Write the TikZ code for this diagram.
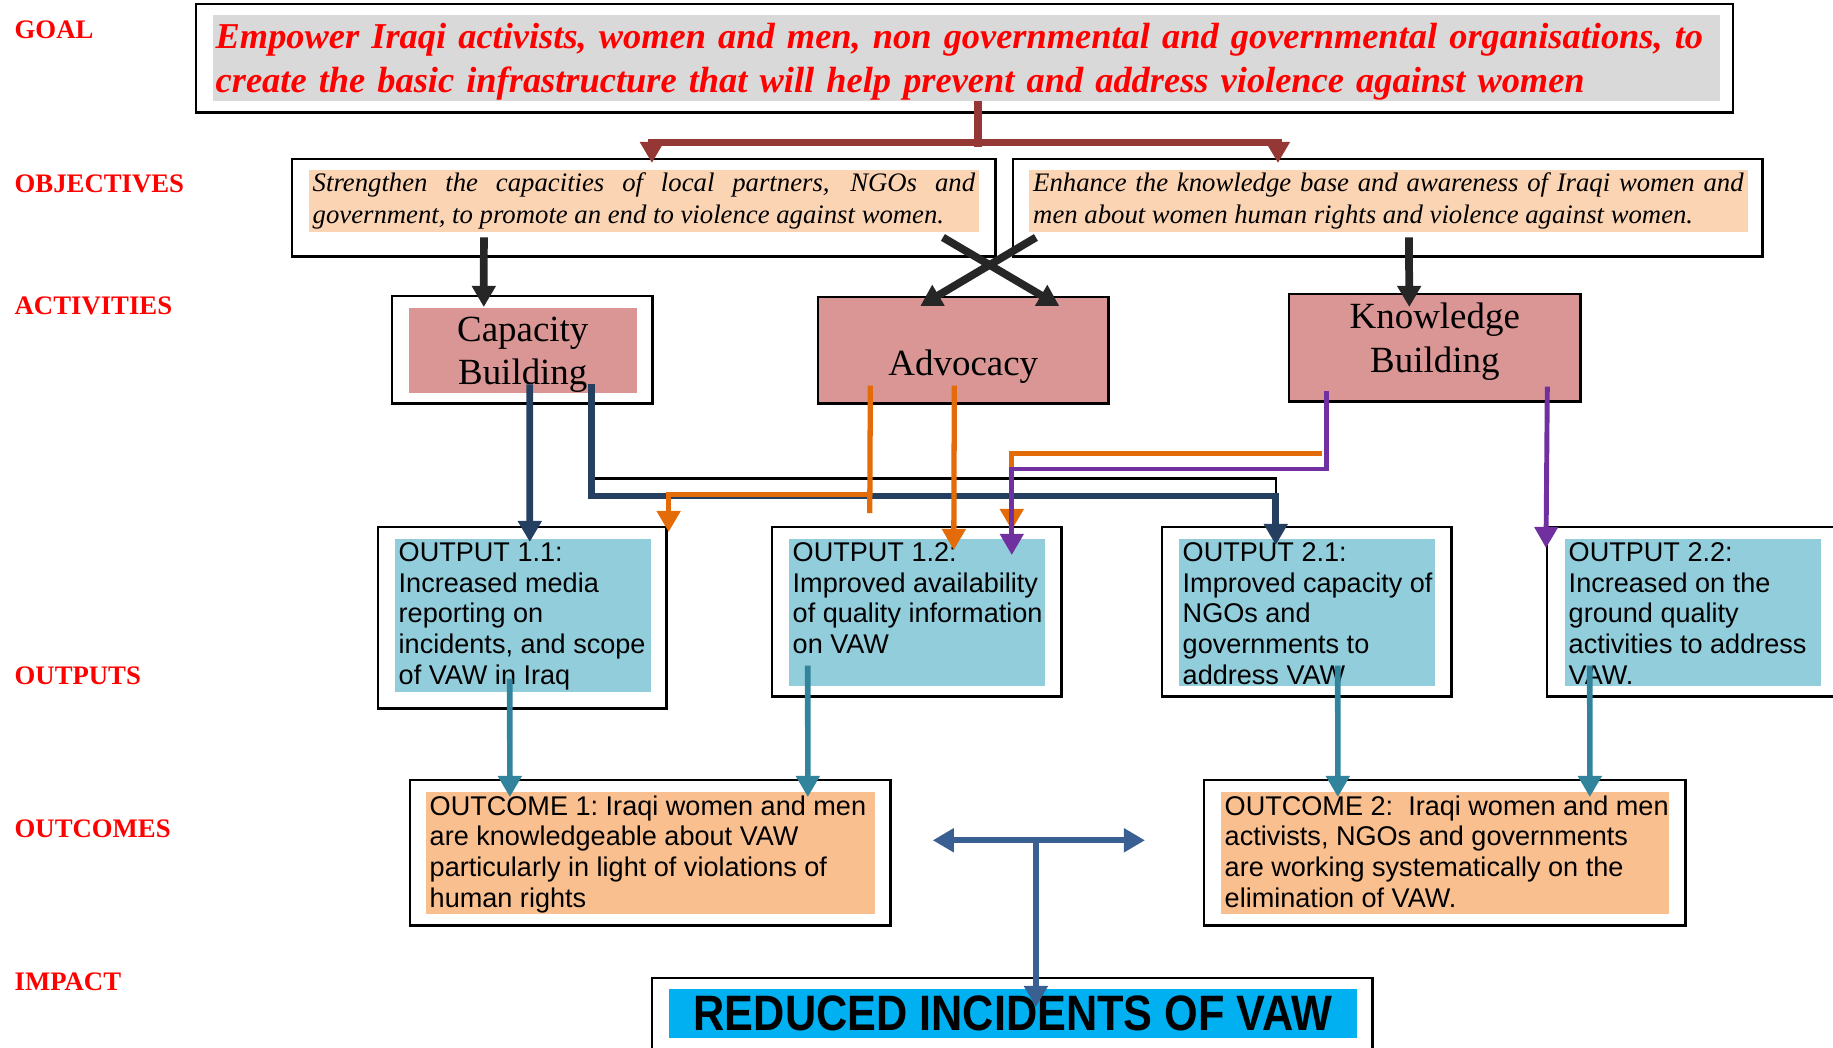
\documentclass[tikz,border=0pt]{standalone}
\usepackage{fontspec}
\usepackage{graphicx}
\setmainfont{Liberation Serif}
\setsansfont{Liberation Sans}
\usetikzlibrary{arrows.meta,calc}

\definecolor{goalgray}{HTML}{D9D9D9}
\definecolor{objpeach}{HTML}{FBD4B4}
\definecolor{actpink}{HTML}{D99694}
\definecolor{outblue}{HTML}{92CDDC}
\definecolor{ocorange}{HTML}{FABF8F}
\definecolor{impcyan}{HTML}{00B0F0}
\definecolor{linkbrown}{HTML}{953735}
\definecolor{linknavy}{HTML}{243F60}
\definecolor{linkorange}{HTML}{E36C09}
\definecolor{linkpurple}{HTML}{7030A0}
\definecolor{linkteal}{HTML}{31849B}
\definecolor{linkblue}{HTML}{3A6093}
\definecolor{linkblack}{HTML}{262626}

\begin{document}
\begin{tikzpicture}[x=0.01cm, y=-0.01cm,
    >={Triangle[width=6.5pt,length=6pt]},
    boxframe/.style={draw, line width=0.7pt, anchor=north west, inner sep=0pt},
    fillpanel/.style={anchor=north west, inner sep=0pt},
    rowlabel/.style={anchor=west, inner sep=0pt, text=red, font=\bfseries\fontsize{7.6}{9}\selectfont},
    outtext/.style={anchor=north west, align=left, inner xsep=0.04cm, inner ysep=0.04cm, font=\sffamily\fontsize{7.7}{8.7}\selectfont\frenchspacing},
    acttext/.style={align=center, font=\fontsize{10.5}{12.3}\selectfont},
    objtext/.style={align=justify, inner ysep=0pt, font=\itshape\fontsize{7.6}{9}\selectfont},
    brownlink/.style={draw=linkbrown, line width=2.2pt},
    blacklink/.style={draw=linkblack, line width=2.2pt},
    navylink/.style={draw=linknavy, line width=1.9pt},
    orangelink/.style={draw=linkorange, line width=1.5pt},
    purplelink/.style={draw=linkpurple, line width=1.4pt},
    teallink/.style={draw=linkteal, line width=1.6pt},
    teelink/.style={draw=linkblue, line width=1.6pt}]
  \useasboundingbox (0,0) rectangle (1833,1047);

  % row labels
  \node[rowlabel] (lgoal) at (14,30) {GOAL};
  \node[rowlabel] (lobj) at (14,184) {OBJECTIVES};
  \node[rowlabel] (lact) at (14,306) {ACTIVITIES};
  \node[rowlabel] (lout) at (14,676) {OUTPUTS};
  \node[rowlabel] (loc) at (14,829) {OUTCOMES};
  \node[rowlabel] (limp) at (14,982) {IMPACT};

  % goal
  \node[boxframe, minimum width=15.36cm, minimum height=1.08cm] (goalbox) at (195,3) {};
  \node[fillpanel, fill=goalgray, minimum width=15.06cm, minimum height=0.86cm] (goal) at (212,14) {};
  \node[text width=15.0cm, inner sep=0pt, align=left, text=red, font=\bfseries\itshape\fontsize{10.35}{12.4}\selectfont] (goaltxt)
    at ($(goal.center)+(0,4)$)
    {Empower Iraqi activists, women and men, non governmental and governmental organisations, to\\create the basic infrastructure that will help prevent and address violence against women};

  % objectives
  \node[boxframe, minimum width=7.03cm, minimum height=0.97cm] (obj1box) at (291,158) {};
  \node[fillpanel, objtext, fill=objpeach, minimum height=0.62cm, text width=6.62cm, inner xsep=0.04cm] (obj1) at (308,169)
    {Strengthen the capacities of local partners, NGOs and\linebreak government, to promote an end to violence against women.};
  \node[boxframe, minimum width=7.49cm, minimum height=0.97cm] (obj2box) at (1012,158) {};
  \node[fillpanel, objtext, fill=objpeach, minimum height=0.62cm, text width=7.1cm, inner xsep=0.045cm] (obj2) at (1028,169)
    {Enhance the knowledge base and awareness of Iraqi women and\linebreak men about women human rights and violence against women.};

  % activities
  \node[boxframe, minimum width=2.60cm, minimum height=1.07cm] (capbox) at (391,295) {};
  \node[fillpanel, acttext, fill=actpink, minimum width=2.28cm, minimum height=0.85cm] (cap) at (408,307) {\\[-0.1cm]Capacity\\Building};
  \node[boxframe, acttext, fill=actpink, minimum width=2.90cm, minimum height=1.06cm, text height=0.55cm, text depth=0.05cm] (adv) at (817,296) {Advocacy};
  \node[boxframe, fill=actpink, minimum width=2.91cm, minimum height=1.07cm] (know) at (1288,293) {};
  \node[acttext, inner sep=0pt] (knowtxt) at ($(know.center)+(0,-6)$) {Knowledge\\Building};

  % outputs
  \node[boxframe, minimum width=2.88cm, minimum height=1.81cm] (o11box) at (377,526) {};
  \node[fillpanel, fill=outblue, minimum width=2.56cm, minimum height=1.53cm] (o11) at (394,538) {};
  \node[outtext] (o11txt) at (o11.north west) {OUTPUT 1.1:\\Increased media\\reporting on\\incidents, and scope\\of VAW in Iraq};
  \node[boxframe, minimum width=2.89cm, minimum height=1.69cm] (o12box) at (771,526) {};
  \node[fillpanel, fill=outblue, minimum width=2.56cm, minimum height=1.47cm] (o12) at (788,538) {};
  \node[outtext] (o12txt) at (o12.north west) {OUTPUT 1.2:\\Improved availability\\of quality information\\on VAW};
  \node[boxframe, minimum width=2.89cm, minimum height=1.69cm] (o21box) at (1161,526) {};
  \node[fillpanel, fill=outblue, minimum width=2.56cm, minimum height=1.47cm] (o21) at (1178,538) {};
  \node[outtext] (o21txt) at (o21.north west) {OUTPUT 2.1:\\Improved capacity of\\NGOs and\\governments to\\address VAW};
  \node[boxframe, minimum width=2.95cm, minimum height=1.69cm] (o22box) at (1546,526) {};
  \node[fillpanel, fill=outblue, minimum width=2.56cm, minimum height=1.47cm] (o22) at (1564,538) {};
  \node[outtext] (o22txt) at (o22.north west) {OUTPUT 2.2:\\Increased on the\\ground quality\\activities to address\\VAW.};

  % outcomes
  \node[boxframe, minimum width=4.80cm, minimum height=1.45cm] (oc1box) at (409,779) {};
  \node[fillpanel, fill=ocorange, minimum width=4.49cm, minimum height=1.22cm] (oc1) at (425,791) {};
  \node[outtext] (oc1txt) at (oc1.north west) {OUTCOME 1: Iraqi women and men\\are knowledgeable about VAW\\particularly in light of violations of\\human rights};
  \node[boxframe, minimum width=4.81cm, minimum height=1.45cm] (oc2box) at (1203,779) {};
  \node[fillpanel, fill=ocorange, minimum width=4.48cm, minimum height=1.22cm] (oc2) at (1220,791) {};
  \node[outtext] (oc2txt) at (oc2.north west) {OUTCOME 2:\ \ Iraqi women and men\\activists, NGOs and governments\\are working systematically on the\\elimination of VAW.};

  % impact
  \node[boxframe, minimum width=7.20cm, minimum height=0.90cm] (impbox) at (651,977) {};
  \node[fillpanel, fill=impcyan, minimum width=6.88cm, minimum height=0.49cm, font=\sffamily\bfseries\fontsize{12.3}{14}\selectfont] (imp) at (668,988)
    {\scalebox{1}[1.15]{REDUCED INCIDENTS OF VAW}};

  % goal to objectives
  \coordinate (split) at ($(goal.south)+(12,41)$);
  \draw[brownlink] ($(goal.south)+(12,0)$) -- ($(goal.south)+(12,46)$);
  \draw[brownlink, <->] ($(obj1.north)+(8,-6)$) |- (split) -| ($(obj2.north)+(-110.5,-6)$);

  % objectives to activities
  \draw[blacklink, ->] ($(obj1.south)+(-160,5)$) -- ($(cap.north)+(-39,0)$);
  \draw[blacklink, ->] ($(obj2.south)+(20.5,5)$) -- ($(know.north)+(-25.5,14)$);
  \draw[blacklink, ->] ($(obj1.south)+(299,5)$) -- ($(adv.north)+(96,10)$);
  \draw[blacklink, ->] ($(obj2.south)+(-352.5,5)$) -- ($(adv.north)+(-43,10)$);

  % activities to outputs
  \draw[navylink, ->] ($(cap.south)+(7,-9)$) -- ($(o11.north)+(7,4)$);
  \draw[black, line width=0.6pt] ($(cap.south)+(72,85)$) -| ($(o21.north)+(-31,-42)$);
  \draw[navylink, ->] ($(cap.south)+(69,-9)$) |- ($(o21.north)+(-31,-42)$) -- ($(o21.north)+(-31,7)$);
  \draw[orangelink] ($(adv.south)+(-93,-19)$) -- ($(o12.north)+(-47,-25)$);
  \draw[orangelink, ->] ($(adv.south)+(-93,90)$) -| ($(o11box.north east)+(1,6)$);
  \draw[orangelink, ->] ($(adv.south)+(-9,-19)$) -- ($(o12.north)+(37,12)$);
  \draw[orangelink, ->] ($(know.south)+(-112.5,51)$) -| ($(o12.north)+(95,-8)$);
  \draw[purplelink, ->] ($(know.south)+(-108.5,-12)$) |- ($(o12.north)+(95,-69)$) -- ($(o12.north)+(95,17)$);
  \draw[purplelink, ->] ($(know.south)+(112.5,-16)$) -- ($(o22box.north west)+(0,22)$);

  % outputs to outcomes
  \draw[teallink, ->] ($(o11.south)+(-13,-14)$) -- ($(oc1.north)+(-140.5,6)$);
  \draw[teallink, ->] ($(o12.south)+(-109,-21)$) -- ($(oc1.north)+(157.5,6)$);
  \draw[teallink, ->] ($(o21.south)+(31,-21)$) -- ($(oc2.north)+(-107,6)$);
  \draw[teallink, ->] ($(o22.south)+(-103,-21)$) -- ($(oc2.north)+(145,6)$);

  % outcomes to impact
  \coordinate (tee) at ($(imp.north)+(23,-149)$);
  \draw[teelink, <->] ($(oc1box.east)+(41,-12.5)$) -- ($(oc2box.west)+(-58,-12.5)$);
  \draw[teelink, ->] (tee) -- ($(imp.north)+(23,19)$);
\end{tikzpicture}
\end{document}
